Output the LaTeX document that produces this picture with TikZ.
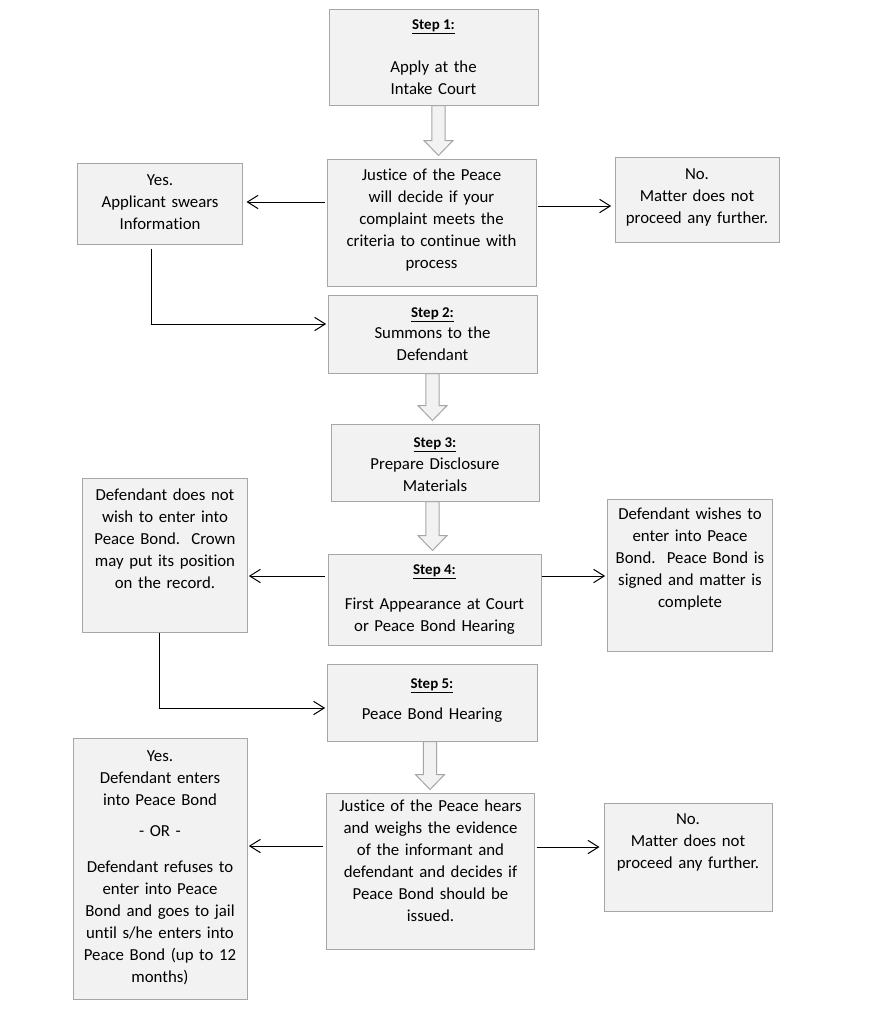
\documentclass[tikz,border=0pt]{standalone}
\usepackage{fontspec}
\setmainfont{Carlito}[Ligatures={NoCommon}]
\usetikzlibrary{calc,fit,arrows.meta}
\definecolor{boxfill}{HTML}{F2F2F2}
\definecolor{boxline}{HTML}{A6A6A6}
\newcommand\blockarr[3]{%
  \draw[blk] let \p1=($(#1.south)+(#3,0)$), \p2=(#2.north) in
    (\x1-4.9pt,\y1) -- (\x1-4.9pt,\y2+13.5pt) -- (\x1-10.9pt,\y2+13.5pt) --
    (\x1,\y2+2.25pt) -- (\x1+10.9pt,\y2+13.5pt) -- (\x1+4.9pt,\y2+13.5pt) --
    (\x1+4.9pt,\y1) -- cycle;}
\begin{document}
\begin{tikzpicture}[x=0.75pt,y=-0.75pt,
  box/.style={draw=boxline, fill=boxfill, line width=0.75pt, inner sep=0pt},
  blk/.style={draw=boxline, fill=boxfill, line width=0.75pt},
  txt/.style={font=\fontsize{12.6}{16.5}\selectfont, text width=157pt, align=center, inner sep=0pt, anchor=base},
  stp/.style={font=\fontsize{11.2}{14}\selectfont\bfseries, inner sep=0pt, anchor=base},
  conn/.style={draw=black, line width=0.75pt, -{Straight Barb[length=8pt,width=10pt]}}]
\fill[white] (0,0) rectangle (872,1011);
\useasboundingbox (0,0) rectangle (872,1011);

% boxes
\node[box, fit={(329,9) (538,105)}] (s1) {};
\node[box, fit={(327,159) (536,286)}] (jp) {};
\node[box, fit={(77,163) (242,244)}] (yes) {};
\node[box, fit={(615,157) (779,242)}] (no) {};
\node[box, fit={(328,295) (537,373)}] (s2) {};
\node[box, fit={(331,424) (539,501)}] (s3) {};
\node[box, fit={(328,554) (541,645)}] (s4) {};
\node[box, fit={(82,478) (247,632)}] (lft) {};
\node[box, fit={(607,499) (772,651)}] (rgt) {};
\node[box, fit={(327,664) (537,741)}] (s5) {};
\node[box, fit={(326,793) (534,949)}] (jp2) {};
\node[box, fit={(73,738) (247,999)}] (yes2) {};
\node[box, fit={(604,803) (772,911)}] (no2) {};

% texts
\node[stp] (s1l) at (433.5,29) {\underline{Step 1:}};
\node[txt] (s1t) at (433.5,72) {Apply at the\\Intake Court};
\node[txt] (jpt) at (431.5,180) {Justice of the Peace\\will decide if your\\complaint meets the\\criteria to continue with\\process};
\node[txt] (yest) at (160,185) {Yes.\\Applicant swears\\Information};
\node[txt] (not) at (697,179) {No.\\Matter does not\\proceed any further.};
\node[stp] (s2l) at (432.5,317) {\underline{Step 2:}};
\node[txt] (s2t) at (432.5,338) {Summons to the\\Defendant};
\node[stp] (s3l) at (435,447) {\underline{Step 3:}};
\node[txt] (s3t) at (435,469) {Prepare Disclosure\\Materials};
\node[stp] (s4l) at (434.5,574) {\underline{Step 4:}};
\node[txt] (s4t) at (434.5,609) {First Appearance at Court\\or Peace Bond Hearing};
\node[txt] (lftt) at (165,500) {Defendant does not\\wish to enter into\\Peace Bond.\ \ Crown\\may put its position\\on the record.};
\node[txt] (rgtt) at (690,519) {Defendant wishes to\\enter into Peace\\Bond.\ \ Peace Bond is\\signed and matter is\\complete};
\node[stp] (s5l) at (432,688) {\underline{Step 5:}};
\node[txt] (s5t) at (432,719) {Peace Bond Hearing};
\node[txt] (jp2t) at (430.5,811) {Justice of the Peace hears\\and weighs the evidence\\of the informant and\\defendant and decides if\\Peace Bond should be\\issued.};
\node[txt] (yes2t) at (160,761) {Yes.\\Defendant enters\\into Peace Bond\\[6.75pt] - OR -\\[10.5pt] Defendant refuses to\\enter into Peace\\Bond and goes to jail\\until s/he enters into\\Peace Bond (up to 12\\months)};
\node[txt] (no2t) at (688,824) {No.\\Matter does not\\proceed any further.};

% block arrows
\blockarr{s1}{jp}{5}
\blockarr{s2}{s3}{0}
\blockarr{s3}{s4}{-2.5}
\blockarr{s5}{jp2}{-2}

% connectors
\draw[conn, shorten <=1.5pt, shorten >=3pt] (jp.west |- 0,202) -- (yes.east |- 0,202);
\draw[conn, shorten <=1pt, shorten >=2.5pt] (jp.east |- 0,206) -- (no.west |- 0,206);
\draw[conn, shorten <=3pt, shorten >=1pt] (151,0 |- yes.south) |- (s2.west |- 0,324);
\draw[conn, shorten <=2pt, shorten >=1pt] (s4.west |- 0,576) -- (lft.east |- 0,576);
\draw[conn, shorten >=1pt] (s4.east |- 0,576) -- (rgt.west |- 0,576);
\draw[conn, shorten >=1pt] (159,0 |- lft.south) |- (s5.west |- 0,708);
\draw[conn, shorten <=2pt, shorten >=1pt] (jp2.west |- 0,846) -- (yes2.east |- 0,846);
\draw[conn, shorten <=1.5pt, shorten >=3pt] (jp2.east |- 0,847) -- (no2.west |- 0,847);
\end{tikzpicture}
\end{document}
